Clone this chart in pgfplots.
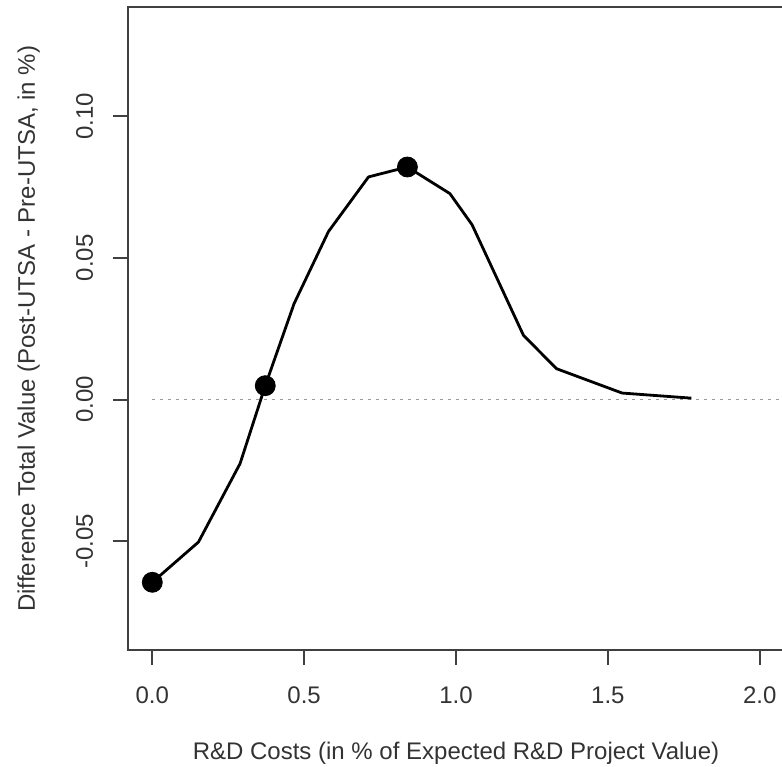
\documentclass[border=0pt]{standalone}
\usepackage{fontspec}
\setmainfont{Liberation Sans}
\usepackage{pgfplots}
\pgfplotsset{compat=1.18}
\begin{document}
\begin{tikzpicture}
\begin{axis}[
  at={(64pt,58pt)}, anchor=south west,
  scale only axis, width=328pt, height=321.25pt,
  xmin=-0.08, xmax=2.08, ymin=-0.0884, ymax=0.1384,
  axis line style={black!75, line width=1pt},
  tick style={black!75, line width=1pt},
  tick align=outside, major tick length=7.5pt,
  xtick={0,0.5,1,1.5,2}, xticklabels={0.0,0.5,1.0,1.5,2.0},
  ytick={-0.05,0,0.05,0.1}, yticklabels={-0.05,0.00,0.05,0.10},
  xtick pos=bottom, ytick pos=left,
  font=\fontsize{12}{14}\selectfont,
  ticklabel style={font=\fontsize{12}{14}\selectfont, text=black!80},
  xticklabel style={anchor=base, yshift=-19pt},
  yticklabel style={xshift=-10pt, rotate=90, anchor=base},
  xlabel={R\&D Costs (in \% of Expected R\&D Project Value)},
  ylabel={Difference Total Value (Post-UTSA - Pre-UTSA, in \%)},
  xlabel style={at={(axis description cs:0.5,-0.1712)}, anchor=base, text=black!80},
  ylabel style={at={(axis description cs:-0.1418,0.5)}, anchor=base, text=black!80},
  clip=true,
]
\addplot[gray!80, line width=0.9pt, dash pattern=on 1.2pt off 2.8pt] coordinates {(0,0) (2.1,0)};
\addplot[black, line width=1.4pt, line join=round] coordinates {
(0,-0.0645) (0.152,-0.0503) (0.289,-0.0226) (0.372,0.0049) (0.467,0.0339)
(0.580,0.0593) (0.712,0.0786) (0.840,0.0821) (0.980,0.0727) (1.053,0.0617)
(1.222,0.0227) (1.331,0.0109) (1.547,0.0023) (1.775,0.0005)};
\addplot[only marks, mark=*, mark size=5pt, black] coordinates {(0,-0.0645) (0.372,0.0049) (0.840,0.0821)};
\end{axis}
\pgfresetboundingbox
\useasboundingbox (0,0) rectangle (391pt,383pt);
\end{tikzpicture}
\end{document}
